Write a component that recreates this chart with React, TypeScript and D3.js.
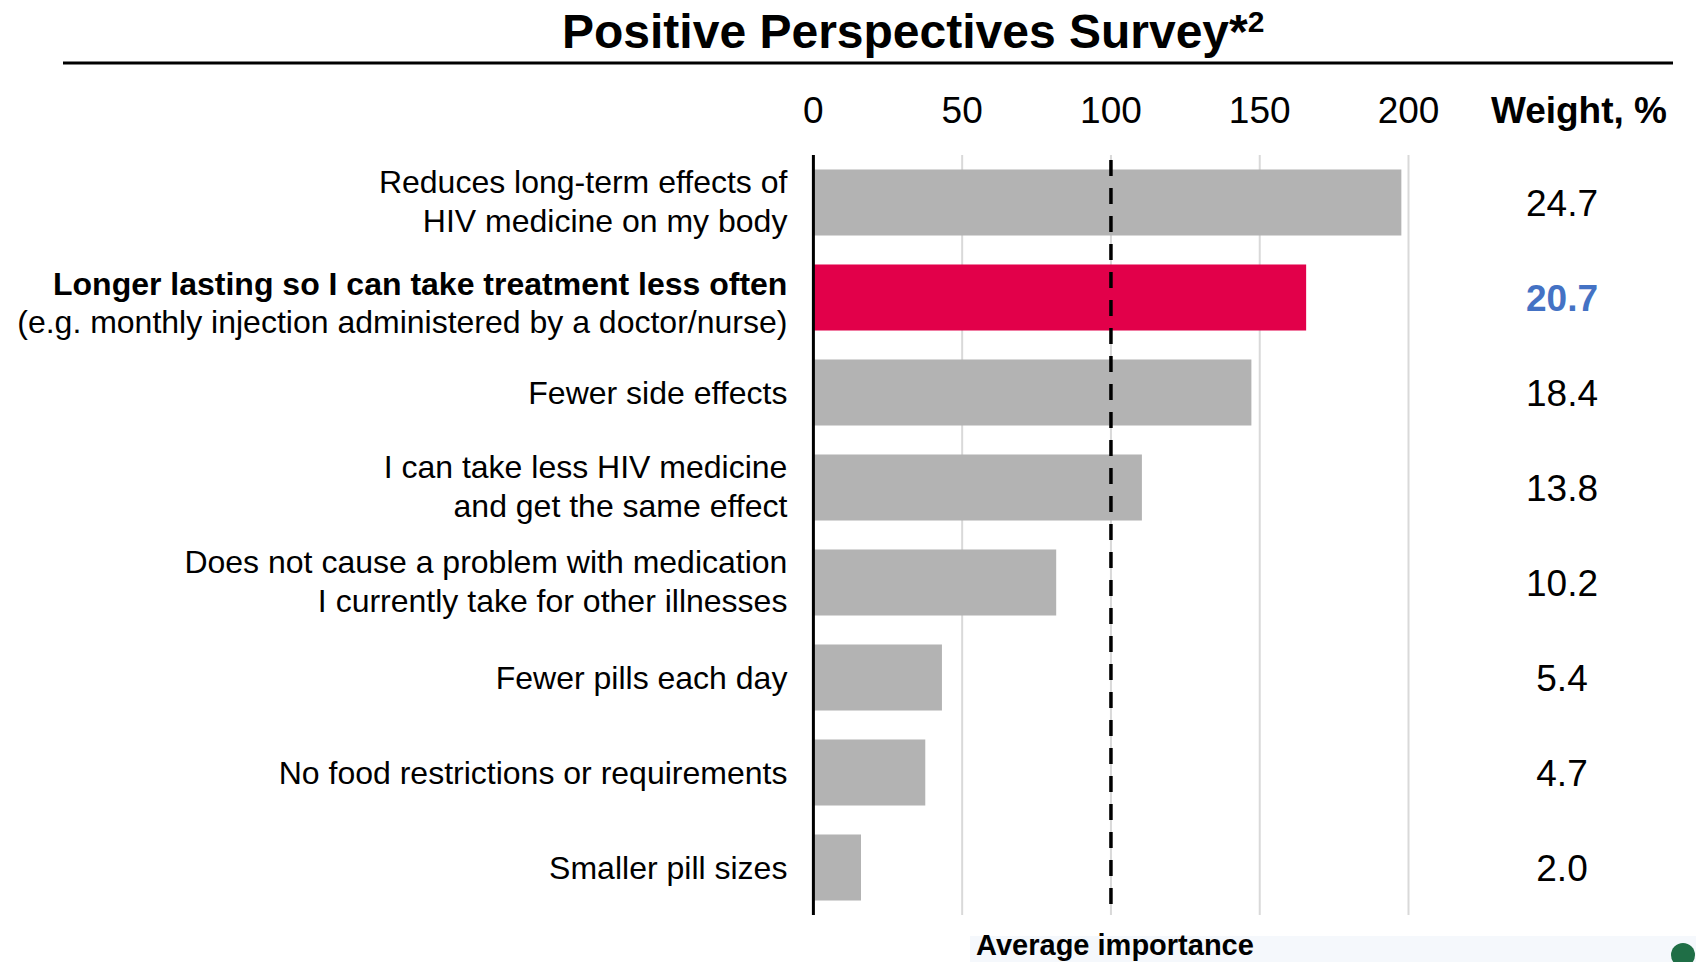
import React from "react";
import * as d3 from "d3";

// Attributes, top to bottom
const categories: string[][] = [
  ["Reduces long-term effects of", "HIV medicine on my body"],
  ["Longer lasting so I can take treatment less often", "(e.g. monthly injection administered by a doctor/nurse)"],
  ["Fewer side effects"],
  ["I can take less HIV medicine", "and get the same effect"],
  ["Does not cause a problem with medication", "I currently take for other illnesses"],
  ["Fewer pills each day"],
  ["No food restrictions or requirements"],
  ["Smaller pill sizes"],
];

// Relative importance index (100 = average importance)
const importance: number[] = [197.6, 165.6, 147.2, 110.4, 81.6, 43.2, 37.6, 16.0];

// Weight, %
const weights: string[] = ["24.7", "20.7", "18.4", "13.8", "10.2", "5.4", "4.7", "2.0"];

const xTicks: number[] = [0, 50, 100, 150, 200];
const averageImportance = 100;
const highlightIndex = 1;

const W = 1696;
const H = 962;
const FONT = "'Liberation Sans', Arial, Helvetica, sans-serif";

export default function App() {
  const x = d3.scaleLinear().domain([0, 200]).range([813.4, 1408.5]);
  const y = d3
    .scaleBand<number>()
    .domain(d3.range(categories.length))
    .range([155, 915])
    .paddingInner(0.305)
    .paddingOuter(0.1525);

  const [y0, y1] = y.range();
  const bw = y.bandwidth();
  const labelRight = 787.4;
  const weightX = 1562;

  return (
    <div style={{ position: "absolute", left: 0, top: 0 }}>
      <svg width={W} height={H} style={{ display: "block", fontFamily: FONT }}>
        <rect x={0} y={0} width={W} height={H} fill="#ffffff" />

        {/* Title */}
        <text x={562} y={48} fontSize={48} fontWeight="bold" fill="#000">
          Positive Perspectives Survey*
          <tspan fontSize={30} dy={-16}>2</tspan>
        </text>
        <line x1={63} x2={1673} y1={63} y2={63} stroke="#000" strokeWidth={3} />

        {/* Gridlines */}
        {xTicks.filter((t) => t !== 0).map((t) => (
          <line key={"g" + t} x1={x(t)} x2={x(t)} y1={y0} y2={y1} stroke="#d9d9d9" strokeWidth={2} />
        ))}

        {/* Tick labels */}
        {xTicks.map((t) => (
          <text key={"t" + t} x={x(t)} y={123} fontSize={37} textAnchor="middle" fill="#000">
            {t}
          </text>
        ))}
        <text x={1667} y={123} fontSize={37} fontWeight="bold" textAnchor="end" fill="#000">
          Weight, %
        </text>

        {/* Bars */}
        {importance.map((v, i) => (
          <rect
            key={"b" + i}
            x={x(0)}
            y={y(i)!}
            width={x(v) - x(0)}
            height={bw}
            fill={i === highlightIndex ? "#e2004a" : "#b3b3b3"}
          />
        ))}

        {/* Average importance reference */}
        <line
          x1={x(averageImportance)}
          x2={x(averageImportance)}
          y1={160}
          y2={y1}
          stroke="#000"
          strokeWidth={3.5}
          strokeDasharray="16 12"
        />

        {/* Value axis */}
        <line x1={x(0)} x2={x(0)} y1={y0} y2={y1} stroke="#000" strokeWidth={3} />

        {/* Category labels */}
        {categories.map((lines, i) => {
          const cy = y(i)! + bw / 2 + (i === highlightIndex ? 6.5 : 0);
          const n = lines.length;
          return (
            <text key={"c" + i} x={labelRight} fontSize={32} textAnchor="end" fill="#000">
              {lines.map((ln, j) => (
                <tspan
                  key={j}
                  x={labelRight}
                  y={cy + 11.5 + (j - (n - 1) / 2) * 38.5 - (n > 1 ? 1.5 : 0)}
                  fontWeight={i === highlightIndex && j === 0 ? "bold" : "normal"}
                >
                  {ln}
                </tspan>
              ))}
            </text>
          );
        })}

        {/* Weights */}
        {weights.map((w, i) => (
          <text
            key={"w" + i}
            x={weightX}
            y={y(i)! + bw / 2 + 13}
            fontSize={37}
            textAnchor="middle"
            fontWeight={i === highlightIndex ? "bold" : "normal"}
            fill={i === highlightIndex ? "#4472c4" : "#000"}
          >
            {w}
          </text>
        ))}

        {/* Footer */}
        <rect x={970} y={936} width={W - 970} height={H - 936} fill="#f5f8fc" />
        <text x={1115} y={955} fontSize={29} fontWeight="bold" textAnchor="middle" fill="#000">
          Average importance
        </text>
        <circle cx={1683} cy={955} r={12} fill="#1f6e46" />
      </svg>
    </div>
  );
}
